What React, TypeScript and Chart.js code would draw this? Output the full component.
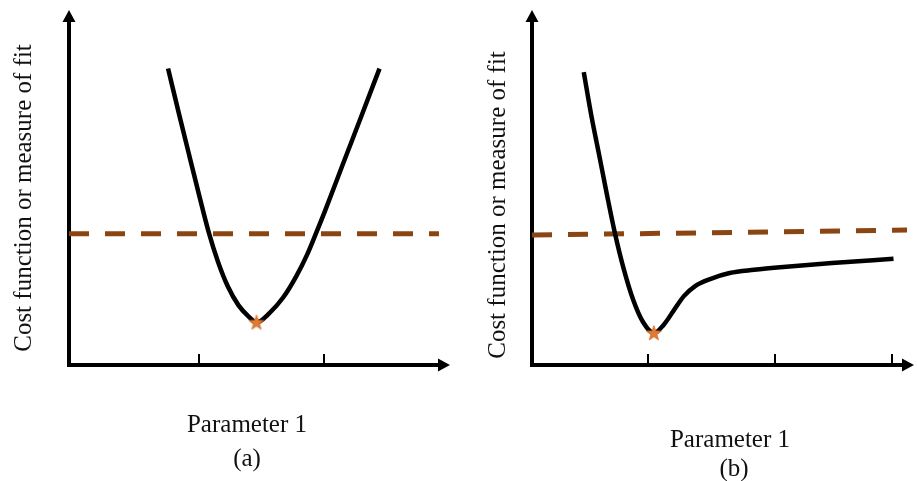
import React, { useEffect, useRef } from "react";
import { Chart, registerables } from "chart.js";

Chart.register(...registerables);

// ---- Panel (a): a well-behaved bowl with a single minimum ----
const curveAX = [2.6, 2.89, 3.18, 3.44, 3.67, 3.91, 4.17, 4.45, 4.71, 4.92, 5.26, 5.62, 5.96, 6.25, 6.48, 6.72, 7.19, 7.66, 8.15];
const curveAY = [8.35, 7.06, 5.8, 4.68, 3.73, 2.91, 2.21, 1.68, 1.37, 1.2, 1.46, 1.9, 2.49, 3.11, 3.7, 4.34, 5.66, 6.97, 8.35];
const thresholdAX = [0, 9.71];
const thresholdAY = [3.7, 3.7];
const bestAX = [4.92];
const bestAY = [1.2];
const ticksA = [3.41, 6.69];

// ---- Panel (b): sharp minimum followed by a long, slowly rising tail ----
const curveBX = [1.38, 1.58, 1.79, 2.0, 2.21, 2.44, 2.7, 2.96, 3.25, 3.51, 3.77, 4.05, 4.36, 4.75, 5.27, 5.92, 6.7, 8.0, 9.64];
const curveBY = [8.25, 7.04, 5.92, 4.79, 3.72, 2.73, 1.83, 1.21, 0.9, 1.13, 1.52, 1.94, 2.23, 2.42, 2.59, 2.68, 2.76, 2.87, 2.99];
const thresholdBX = [0, 10];
const thresholdBY = [3.66, 3.8];
const bestBX = [3.25];
const bestBY = [0.9];
const ticksB = [3.09, 6.47, 9.61];

// ---- Text ----
const xTitle = "Parameter 1";
const yTitle = "Cost function or measure of fit";
const panelTags = ["(a)", "(b)"];

const FONT = '25px "Liberation Serif", "Times New Roman", serif';
const TEXT_COLOR = "#111111";
const CURVE_COLOR = "#000000";
const DASH_COLOR = "#8B4513";
const STAR_COLOR = "#E07A35";

const zip = (xs: number[], ys: number[]) => xs.map((x, i) => ({ x, y: ys[i] }));

function makeStar(): HTMLCanvasElement {
  const size = 18;
  const c = document.createElement("canvas");
  c.width = size;
  c.height = size;
  const ctx = c.getContext("2d")!;
  const cx = size / 2;
  const cy = size / 2 + 0.5;
  const outer = 8;
  const inner = 3.3;
  ctx.beginPath();
  for (let i = 0; i < 10; i++) {
    const r = i % 2 === 0 ? outer : inner;
    const a = -Math.PI / 2 + (i * Math.PI) / 5;
    const px = cx + r * Math.cos(a);
    const py = cy + r * Math.sin(a);
    if (i === 0) ctx.moveTo(px, py);
    else ctx.lineTo(px, py);
  }
  ctx.closePath();
  ctx.fillStyle = STAR_COLOR;
  ctx.fill();
  ctx.lineWidth = 0.6;
  ctx.strokeStyle = "#C8651F";
  ctx.stroke();
  return c;
}

type PanelSpec = {
  width: number;
  left: number;
  padding: { left: number; right: number; top: number; bottom: number };
  curveX: number[];
  curveY: number[];
  threshX: number[];
  threshY: number[];
  bestX: number[];
  bestY: number[];
  ticks: number[];
  tag: string;
  xArrowTipOffset: number;
  yTitlePos: { x: number; y: number };
  xTitlePos: { x: number; y: number };
  tagPos: { x: number; y: number };
};

// Draws arrowed axes, inward tick marks and the titles.
const axesPlugin = {
  id: "arrowAxes",
  beforeDatasetsDraw(chart: any, _args: any, opts: any) {
    const { ctx, chartArea, scales } = chart;
    const { left, right, top, bottom } = chartArea;
    const head = 12;
    const half = 6.5;
    ctx.save();
    ctx.strokeStyle = "#000";
    ctx.fillStyle = "#000";
    ctx.lineCap = "butt";

    // y axis
    ctx.lineWidth = 4;
    ctx.beginPath();
    ctx.moveTo(left, bottom + 2);
    ctx.lineTo(left, top + head - 1);
    ctx.stroke();
    ctx.beginPath();
    ctx.moveTo(left, top);
    ctx.lineTo(left - half, top + head);
    ctx.lineTo(left + half, top + head);
    ctx.closePath();
    ctx.fill();

    // x axis
    const tip = right + opts.xArrowTipOffset;
    ctx.beginPath();
    ctx.moveTo(left - 2, bottom);
    ctx.lineTo(tip - head + 1, bottom);
    ctx.stroke();
    ctx.beginPath();
    ctx.moveTo(tip, bottom);
    ctx.lineTo(tip - head, bottom - half);
    ctx.lineTo(tip - head, bottom + half);
    ctx.closePath();
    ctx.fill();

    // tick marks pointing into the plot
    ctx.lineWidth = 2;
    for (const t of opts.ticks as number[]) {
      const px = Math.round(scales.x.getPixelForValue(t));
      ctx.beginPath();
      ctx.moveTo(px, bottom);
      ctx.lineTo(px, bottom - 11);
      ctx.stroke();
    }

    // titles
    ctx.fillStyle = TEXT_COLOR;
    ctx.font = FONT;
    ctx.textAlign = "center";
    ctx.textBaseline = "alphabetic";
    ctx.fillText(xTitle, opts.xTitlePos.x, opts.xTitlePos.y);
    ctx.fillText(opts.tag, opts.tagPos.x, opts.tagPos.y);

    ctx.save();
    ctx.translate(opts.yTitlePos.x, opts.yTitlePos.y);
    ctx.rotate(-Math.PI / 2);
    ctx.fillText(yTitle, 0, 0);
    ctx.restore();

    ctx.restore();
  },
};

function Panel({ spec, star }: { spec: PanelSpec; star: HTMLCanvasElement }) {
  const ref = useRef<HTMLCanvasElement | null>(null);

  useEffect(() => {
    if (!ref.current) return;
    const chart = new Chart(ref.current, {
      type: "line",
      data: {
        datasets: [
          {
            label: "best",
            data: zip(spec.bestX, spec.bestY),
            showLine: false,
            pointStyle: star as any,
            pointRadius: 9,
            clip: false as any,
          },
          {
            label: "cost",
            data: zip(spec.curveX, spec.curveY),
            borderColor: CURVE_COLOR,
            borderWidth: 4.5,
            borderCapStyle: "butt",
            borderJoinStyle: "round",
            pointRadius: 0,
            cubicInterpolationMode: "monotone",
            fill: false,
            clip: false as any,
          },
          {
            label: "threshold",
            data: zip(spec.threshX, spec.threshY),
            borderColor: DASH_COLOR,
            borderWidth: 5,
            borderDash: [20, 16],
            borderCapStyle: "butt",
            pointRadius: 0,
            tension: 0,
            fill: false,
            clip: false as any,
          },
        ],
      },
      options: {
        responsive: false,
        animation: false,
        devicePixelRatio: 1,
        layout: { padding: spec.padding },
        scales: {
          x: { type: "linear", min: 0, max: 10, display: false },
          y: { type: "linear", min: 0, max: 10, display: false },
        },
        plugins: {
          legend: { display: false },
          tooltip: { enabled: false },
          arrowAxes: {
            ticks: spec.ticks,
            tag: spec.tag,
            xArrowTipOffset: spec.xArrowTipOffset,
            yTitlePos: spec.yTitlePos,
            xTitlePos: spec.xTitlePos,
            tagPos: spec.tagPos,
          },
        } as any,
      },
      plugins: [axesPlugin],
    });
    return () => chart.destroy();
  }, [spec, star]);

  return (
    <div style={{ position: "absolute", left: spec.left, top: 0, width: spec.width, height: 481 }}>
      <canvas ref={ref} width={spec.width} height={481} style={{ display: "block" }} />
    </div>
  );
}

const panels: PanelSpec[] = [
  {
    width: 460,
    left: 0,
    padding: { left: 69, right: 7, top: 8, bottom: 116 },
    curveX: curveAX,
    curveY: curveAY,
    threshX: thresholdAX,
    threshY: thresholdAY,
    bestX: bestAX,
    bestY: bestAY,
    ticks: ticksA,
    tag: panelTags[0],
    xArrowTipOffset: 0,
    yTitlePos: { x: 31, y: 198 },
    xTitlePos: { x: 247, y: 432 },
    tagPos: { x: 247, y: 466 },
  },
  {
    width: 457,
    left: 460,
    padding: { left: 72, right: 0, top: 10, bottom: 116 },
    curveX: curveBX,
    curveY: curveBY,
    threshX: thresholdBX,
    threshY: thresholdBY,
    bestX: bestBX,
    bestY: bestBY,
    ticks: ticksB,
    tag: panelTags[1],
    xArrowTipOffset: 7,
    yTitlePos: { x: 45, y: 205 },
    xTitlePos: { x: 270, y: 447 },
    tagPos: { x: 274, y: 476 },
  },
];

export default function App() {
  const starRef = useRef<HTMLCanvasElement | null>(null);
  if (!starRef.current && typeof document !== "undefined") starRef.current = makeStar();
  return (
    <div style={{ position: "absolute", left: 0, top: 0, width: 917, height: 481, background: "#ffffff", overflow: "hidden" }}>
      {panels.map((p) => (
        <Panel key={p.tag} spec={p} star={starRef.current!} />
      ))}
    </div>
  );
}
